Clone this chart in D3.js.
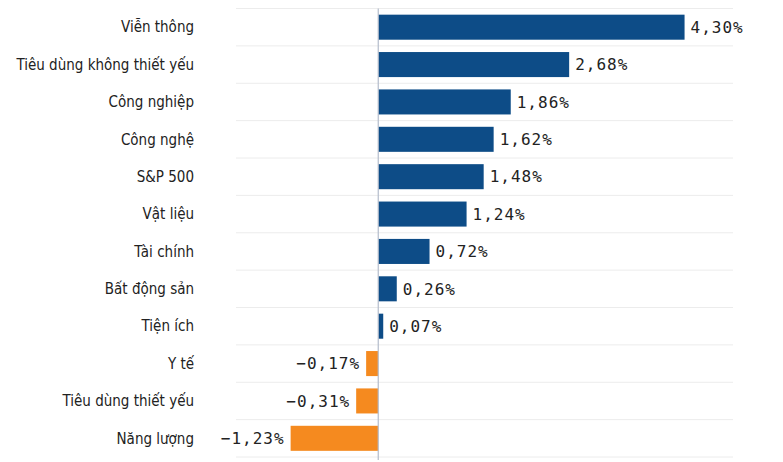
<!DOCTYPE html>
<html>
<head>
<meta charset="utf-8">
<script src="https://cdn.jsdelivr.net/npm/d3@7"></script>
<style>
  body { margin: 0; background: #fff; }
</style>
</head>
<body>
<div id="chart"></div>
<script>
const categories = ['Viễn thông', 'Tiêu dùng không thiết yếu', 'Công nghiệp', 'Công nghệ', 'S&P 500',
  'Vật liệu', 'Tài chính', 'Bất động sản', 'Tiện ích', 'Y tế', 'Tiêu dùng thiết yếu', 'Năng lượng'];
const values = [4.30, 2.68, 1.86, 1.62, 1.48, 1.24, 0.72, 0.26, 0.07, -0.17, -0.31, -1.23];
const xDomain = [-2.06, 4.98];

const W = 783, H = 462;
const gridLeft = 236, gridRight = 733, plotTop = 8.5, plotBottom = 457;

const svg = d3.select('#chart').append('svg')
  .attr('width', W)
  .attr('height', H);

const x = d3.scaleLinear()
  .domain(xDomain)
  .range([231.5, 733]);

const y = d3.scaleBand()
  .domain(categories)
  .range([plotTop, plotBottom])
  .paddingInner(0.33)
  .paddingOuter(0.165);

const step = y.step();

// separators between rows
const seps = d3.range(categories.length + 1).map(i => plotTop + i * step);
svg.selectAll('.sep')
  .data(seps)
  .join('line')
  .attr('class', 'sep')
  .attr('x1', gridLeft)
  .attr('x2', gridRight)
  .attr('y1', d => d)
  .attr('y2', d => d)
  .style('stroke', '#ececec')
  .style('stroke-width', 1);

const data = categories.map((c, i) => ({ name: c, value: values[i] }));

svg.selectAll('.bar')
  .data(data)
  .join('rect')
  .attr('class', 'bar')
  .attr('x', d => x(Math.min(0, d.value)))
  .attr('width', d => Math.abs(x(d.value) - x(0)))
  .attr('y', d => y(d.name))
  .attr('height', y.bandwidth())
  .style('fill', d => d.value >= 0 ? '#0d4c87' : '#f58a1f');

// zero line
svg.append('line')
  .attr('x1', x(0)).attr('x2', x(0))
  .attr('y1', plotTop).attr('y2', H - 2)
  .style('stroke', '#b4bccb')
  .style('stroke-width', 1.2);

// category labels
svg.selectAll('.cat')
  .data(data)
  .join('text')
  .attr('class', 'cat')
  .attr('x', 194)
  .attr('y', d => y(d.name) + y.bandwidth() / 2)
  .attr('dy', '0.35em')
  .style('text-anchor', 'end')
  .style('font-family', 'DejaVu Sans')
  .style('font-stretch', 'condensed')
  .style('font-size', '15px')
  .style('fill', '#222')
  .text(d => d.name);

const fmt = v => (v < 0 ? '\u2212' : '') + Math.abs(v).toFixed(2).replace('.', ',') + '%';

svg.selectAll('.val')
  .data(data)
  .join('text')
  .attr('class', 'val')
  .attr('x', d => d.value >= 0 ? x(d.value) + 6 : x(d.value) - 6)
  .attr('y', d => y(d.name) + y.bandwidth() / 2)
  .attr('dy', '0.36em')
  .style('text-anchor', d => d.value >= 0 ? 'start' : 'end')
  .style('font-family', 'DejaVu Sans Mono')
  .style('font-size', '16px')
  .style('letter-spacing', '1px')
  .style('fill', '#222')
  .text(d => fmt(d.value));
</script>
</body>
</html>
